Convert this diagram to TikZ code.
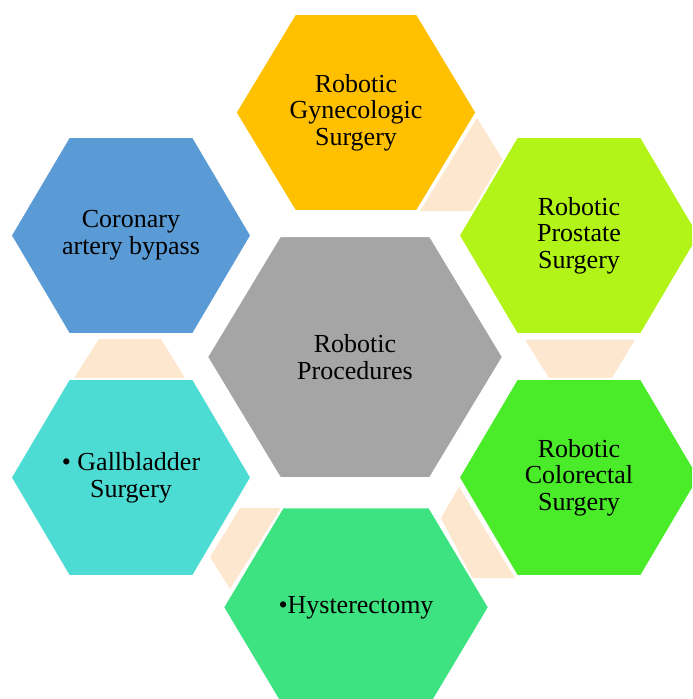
\documentclass[tikz,border=0pt]{standalone}
\usepackage{fontspec}
\setmainfont{Liberation Serif}
\definecolor{cYellow}{HTML}{FFC000}
\definecolor{cLime}{HTML}{B2F318}
\definecolor{cGreen}{HTML}{4AEC2A}
\definecolor{cMint}{HTML}{3DE380}
\definecolor{cCyan}{HTML}{4DDCD3}
\definecolor{cBlue}{HTML}{5B9BD5}
\definecolor{cGray}{HTML}{A5A5A5}
\definecolor{cPeach}{HTML}{FDE7CF}
\newcommand{\hexcell}[7]{%
  \path[hexfill,fill=#7] (#2-#4,#3) -- (#2-#6,#3-#5) -- (#2+#6,#3-#5) -- (#2+#4,#3)
    -- (#2+#6,#3+#5) -- (#2-#6,#3+#5) -- cycle;
  \coordinate (#1) at (#2,#3);}
\tikzset{
  hexfill/.style={draw=white,line width=1.5pt},
  conn/.style={fill=cPeach},
  label/.style={align=center,text=black,inner sep=0pt,
    font=\fontsize{19.5}{20}\selectfont},
}
\begin{document}
\begin{tikzpicture}[x=0.75pt,y=-0.75pt]
\useasboundingbox (0,0) rectangle (692,699);
\clip (0,0) rectangle (692,699);
% connectors
\fill[conn] (477,118) -- (503,160) -- (472,211) -- (420,211) -- cycle;
\fill[conn] (525,339.5) -- (635,339.5) -- (612,378) -- (549,378) -- cycle;
\fill[conn] (459,487) -- (441,518) -- (472,578) -- (515,578) -- cycle;
\fill[conn] (240,508) -- (281,508) -- (230,589) -- (210,557) -- cycle;
\fill[conn] (99,339) -- (161,339) -- (185,378) -- (74,378) -- cycle;
% hexagons
\hexcell{hc}{355}{357}{148}{121}{75}{cGray}
\hexcell{ht}{356}{112.5}{120.5}{98.5}{61}{cYellow}
\hexcell{hrt}{579}{235.5}{120.3}{98.7}{62}{cLime}
\hexcell{hrb}{579}{477.5}{120.3}{98.7}{62}{cGreen}
\hexcell{hb}{356}{607.3}{133}{100}{73.3}{cMint}
\hexcell{hlb}{131}{477.5}{120.3}{98.7}{62}{cCyan}
\hexcell{hlt}{131}{235.5}{120.3}{98.7}{62}{cBlue}
% labels
\node[label] (tc) at (hc) {Robotic\\Procedures};
\node[label] (tt) at (ht) {Robotic\\Gynecologic\\Surgery};
\node[label] (trt) at (hrt) {Robotic\\Prostate\\Surgery};
\node[label] (trb) at (hrb) {Robotic\\Colorectal\\Surgery};
\node[label] (tb) at (hb) {•Hysterectomy};
\node[label] (tlb) at (hlb) {• Gallbladder\\Surgery};
\node[label] (tlt) at (hlt) {Coronary\\artery bypass};
\end{tikzpicture}
\end{document}
